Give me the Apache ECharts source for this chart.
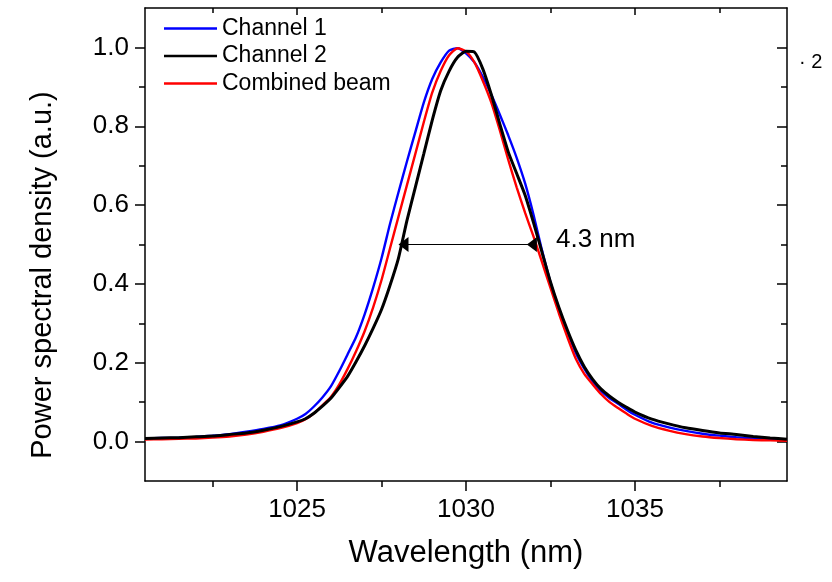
<!DOCTYPE html>
<html>
<head>
<meta charset="utf-8">
<script src="https://cdn.jsdelivr.net/npm/echarts@6/dist/echarts.min.js"></script>
<style>
  html, body { margin: 0; padding: 0; background: #fff; }
  #chart { width: 832px; height: 582px; }
</style>
</head>
<body>
<div id="chart"></div>
<script>
// wavelength grid (nm)
var wavelength = [
  1020.5, 1021, 1021.5, 1022, 1022.5, 1023, 1023.5, 1024, 1024.5,
  1025, 1025.25, 1025.5, 1025.75, 1026, 1026.25, 1026.5, 1026.75,
  1027, 1027.25, 1027.5, 1027.75, 1028, 1028.25, 1028.5, 1028.75,
  1029, 1029.25, 1029.5, 1029.75, 1030, 1030.25, 1030.5, 1030.75,
  1031, 1031.25, 1031.5, 1031.75, 1032, 1032.25, 1032.5, 1032.75,
  1033, 1033.25, 1033.5, 1033.75, 1034, 1034.25, 1034.5, 1034.75,
  1035, 1035.5, 1036, 1036.5, 1037, 1037.5, 1038, 1038.5, 1039, 1039.5
];
// Channel 1 (blue)
var channel1 = [
  0.008, 0.009, 0.010, 0.012, 0.015, 0.019, 0.025, 0.032, 0.041,
  0.058, 0.070, 0.089, 0.112, 0.140, 0.179, 0.222, 0.266,
  0.323, 0.390, 0.465, 0.552, 0.632, 0.710, 0.785, 0.860,
  0.920, 0.962, 0.992, 0.998, 0.985, 0.962, 0.925, 0.880,
  0.830, 0.777, 0.720, 0.655, 0.575, 0.485, 0.404, 0.337,
  0.279, 0.225, 0.185, 0.152, 0.128, 0.110, 0.096, 0.081,
  0.068, 0.048, 0.036, 0.027, 0.020, 0.015, 0.011, 0.008, 0.006, 0.004
];
// Channel 2 (black)
var channel2 = [
  0.008, 0.009, 0.010, 0.012, 0.014, 0.018, 0.022, 0.029, 0.038,
  0.050, 0.058, 0.072, 0.090, 0.110, 0.137, 0.166, 0.203,
  0.243, 0.287, 0.335, 0.396, 0.465, 0.560, 0.645, 0.730,
  0.815, 0.890, 0.940, 0.975, 0.990, 0.988, 0.945, 0.880,
  0.806, 0.735, 0.680, 0.625, 0.555, 0.480, 0.405, 0.340,
  0.283, 0.232, 0.190, 0.158, 0.133, 0.115, 0.100, 0.087,
  0.075, 0.057, 0.045, 0.035, 0.028, 0.022, 0.018, 0.013, 0.009, 0.006
];
// Combined beam (red)
var combined = [
  0.005, 0.006, 0.007, 0.008, 0.010, 0.013, 0.018, 0.025, 0.034,
  0.047, 0.057, 0.072, 0.092, 0.113, 0.145, 0.185, 0.230,
  0.280, 0.340, 0.410, 0.490, 0.570, 0.650, 0.730, 0.810,
  0.885, 0.940, 0.980, 0.998, 0.990, 0.962, 0.915, 0.860,
  0.790, 0.715, 0.645, 0.580, 0.520, 0.455, 0.390, 0.325,
  0.265, 0.210, 0.172, 0.145, 0.120, 0.100, 0.085, 0.071,
  0.058, 0.040, 0.028, 0.019, 0.013, 0.009, 0.006, 0.004, 0.003, 0.002
];
// FWHM arrow end points (nm) at half maximum
var fwhmX = [1028.15, 1031.95];
var fwhmY = 0.5;

var xMajor = [1025, 1030, 1035];
var xMinor = [1022.5, 1027.5, 1032.5, 1037.5];
var yMajor = [0, 0.2, 0.4, 0.6, 0.8, 1.0];
var yMinor = [0.1, 0.3, 0.5, 0.7, 0.9];

var font = 'Liberation Sans, Arial, sans-serif';

function pairs(xs, ys) {
    return xs.map(function (x, i) { return [x, ys[i]]; });
}

function xAx(pos, values, len, inside, showLine, showLabel) {
    return {
        type: 'value', position: pos, min: 1020.5, max: 1039.5,
        axisLine: { show: showLine, onZero: false, lineStyle: { color: '#000', width: 1.5 } },
        axisTick: { show: true, inside: inside, length: len, customValues: values,
            lineStyle: { color: '#000', width: 1.5 } },
        axisLabel: { show: showLabel, customValues: values, margin: 16,
            color: '#000', fontSize: 26, fontFamily: font,
            formatter: function (v) { return String(v); } },
        splitLine: { show: false },
    };
}

function yAx(pos, values, len, inside, showLine, showLabel) {
    return {
        type: 'value', position: pos, min: -0.1, max: 1.1,
        axisLine: { show: showLine, onZero: false, lineStyle: { color: '#000', width: 1.5 } },
        axisTick: { show: true, inside: inside, length: len, customValues: values,
            lineStyle: { color: '#000', width: 1.5 } },
        axisLabel: { show: showLabel, customValues: values, margin: 16,
            color: '#000', fontSize: 26, fontFamily: font,
            formatter: function (v) { return v.toFixed(1); } },
        splitLine: { show: false },
    };
}

var chart = echarts.init(document.getElementById('chart'));
var option = {
    animation: false,
    backgroundColor: '#fff',
    grid: { left: 145, right: 45, top: 8, bottom: 101, containLabel: false },
    legend: {
        data: ['Channel 1', 'Channel 2', 'Combined beam'],
        orient: 'vertical',
        left: 159, top: 12,
        icon: 'rect',
        itemWidth: 53, itemHeight: 2.5, itemGap: 4.5,
        textStyle: { color: '#000', fontSize: 23, fontFamily: font },
    },
    xAxis: [
        xAx('bottom', xMajor, 10, false, true, true),
        xAx('bottom', xMinor, 6, false, false, false),
        xAx('top', xMajor, 7, true, true, false),
        xAx('top', xMinor, 5, true, false, false),
    ],
    yAxis: [
        yAx('left', yMajor, 10, false, true, true),
        yAx('left', yMinor, 6, false, false, false),
        yAx('right', yMajor, 10, true, true, false),
        yAx('right', yMinor, 6, true, false, false),
    ],
    series: [
        {
            name: 'Channel 1', type: 'line', symbol: 'none', smooth: 0.2,
            data: pairs(wavelength, channel1),
            lineStyle: { color: '#0000ff', width: 2.4 }, itemStyle: { color: '#0000ff' },
        },
        {
            name: 'Combined beam', type: 'line', symbol: 'none', smooth: 0.2,
            data: pairs(wavelength, combined),
            lineStyle: { color: '#ff0000', width: 2.4 }, itemStyle: { color: '#ff0000' },
        },
        {
            name: 'Channel 2', type: 'line', symbol: 'none', smooth: 0.2,
            data: pairs(wavelength, channel2),
            lineStyle: { color: '#000000', width: 3 }, itemStyle: { color: '#000000' },
        },
        {
            name: 'fwhm', type: 'line',
            data: fwhmX.map(function (x) { return [x, fwhmY]; }),
            symbol: 'triangle', symbolSize: [15, 10], symbolRotate: 90,
            lineStyle: { color: '#000', width: 1 }, itemStyle: { color: '#000' },
            z: 5,
        },
    ],
    graphic: [
        {
            type: 'text', x: 43, y: 275, rotation: Math.PI / 2,
            style: { text: 'Power spectral density (a.u.)', fill: '#000', fontSize: 29,
                fontFamily: font, align: 'center', verticalAlign: 'middle' },
        },
        {
            type: 'text', x: 466, y: 553,
            style: { text: 'Wavelength (nm)', fill: '#000', fontSize: 31,
                fontFamily: font, align: 'center', verticalAlign: 'middle' },
        },
        {
            type: 'text', x: 556, y: 240,
            style: { text: '4.3 nm', fill: '#000', fontSize: 26,
                fontFamily: font, align: 'left', verticalAlign: 'middle' },
        },
        {
            type: 'text', x: 799, y: 62,
            style: { text: '· 2', fill: '#000', fontSize: 20,
                fontFamily: font, align: 'left', verticalAlign: 'middle' },
        },
    ],
};
chart.setOption(option);
</script>
</body>
</html>
